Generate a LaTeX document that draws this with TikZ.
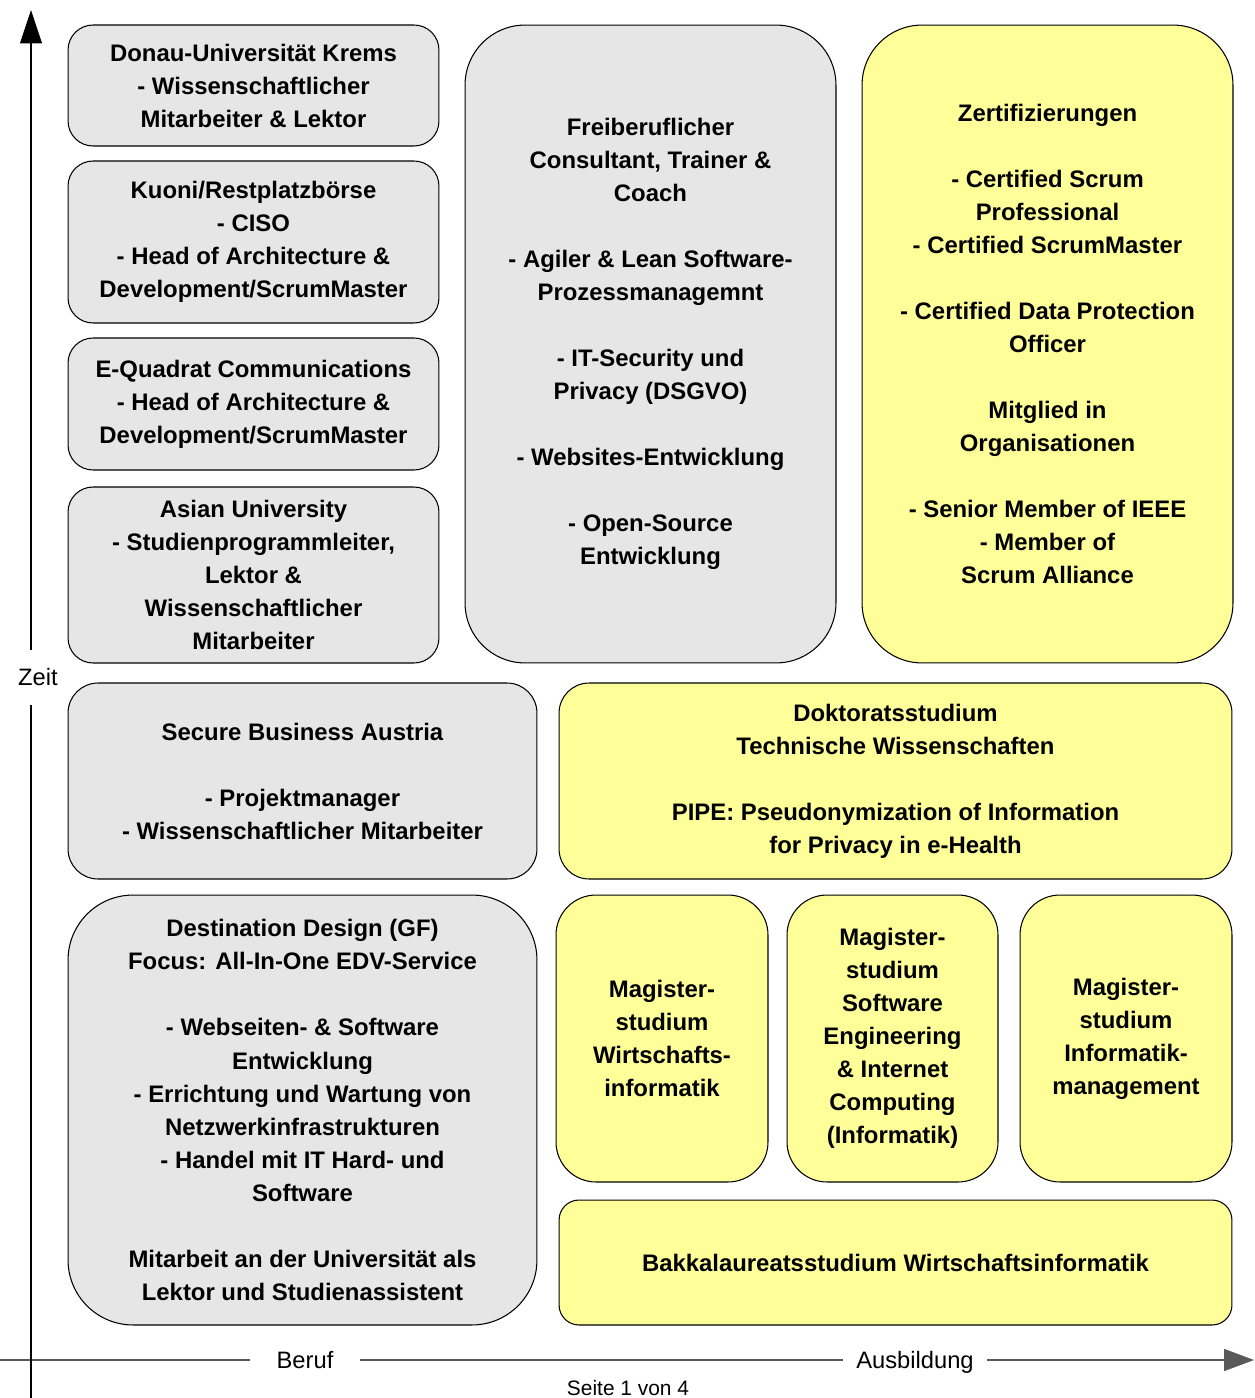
\documentclass[tikz,border=0pt]{standalone}
\usepackage{fontspec}
\setmainfont{Liberation Sans}
\usetikzlibrary{arrows.meta}
\definecolor{jobgray}{HTML}{E6E6E6}
\definecolor{eduyellow}{HTML}{FFFF99}
\tikzset{
  card/.style={draw=black, line width=0.6pt, rectangle, align=center, inner sep=0pt,
    font=\fontsize{13.6}{18.8}\selectfont\bfseries},
  jobbox/.style={card, fill=jobgray},
  edubox/.style={card, fill=eduyellow},
  axislabel/.style={fill=white, inner sep=0pt, font=\fontsize{13.5}{16}\selectfont}
}
\begin{document}
\begin{tikzpicture}[x=0.02cm, y=-0.02cm]
        \useasboundingbox (0,0) rectangle (1254,1398);
        % Beruf
        \node[jobbox, rounded corners=0.5cm, minimum width=7.42cm, minimum height=2.42cm] (donau) at (253.5,85.5)
            {Donau-Universität Krems\\- Wissenschaftlicher\\Mitarbeiter \& Lektor};
        \node[jobbox, rounded corners=0.5cm, minimum width=7.42cm, minimum height=3.24cm] (kuoni) at (253.5,242)
            {Kuoni/Restplatzbörse\\- CISO\\- Head of Architecture \&\\Development/ScrumMaster};
        \node[jobbox, rounded corners=0.5cm, minimum width=7.42cm, minimum height=2.64cm] (equadrat) at (253.5,404)
            {E-Quadrat Communications\\- Head of Architecture \&\\Development/ScrumMaster};
        \node[jobbox, rounded corners=0.5cm, minimum width=7.42cm, minimum height=3.52cm] (asian) at (253.5,575)
            {Asian University\\- Studienprogrammleiter,\\Lektor \&\\Wissenschaftlicher\\Mitarbeiter};
        \node[jobbox, rounded corners=1.2cm, minimum width=7.42cm, minimum height=12.76cm] (frei) at (650.5,344)
            {Freiberuflicher\\Consultant, Trainer \&\\Coach\\[\baselineskip]- Agiler \& Lean Software-\\Prozessmanagemnt\\[\baselineskip]- IT-Security und\\Privacy (DSGVO)\\[\baselineskip]- Websites-Entwicklung\\[\baselineskip]- Open-Source\\Entwicklung};
        \node[jobbox, rounded corners=0.6cm, minimum width=9.38cm, minimum height=3.92cm] (sba) at (302.5,781)
            {Secure Business Austria\\[\baselineskip]- Projektmanager\\- Wissenschaftlicher Mitarbeiter};
        \node[jobbox, rounded corners=1.3cm, minimum width=9.38cm, minimum height=8.6cm] (dd) at (302.5,1110)
            {Destination Design (GF)\\Focus: All-In-One EDV-Service\\[\baselineskip]- Webseiten- \& Software\\Entwicklung\\- Errichtung und Wartung von\\Netzwerkinfrastrukturen\\- Handel mit IT Hard- und\\Software\\[\baselineskip]Mitarbeit an der Universität als\\Lektor und Studienassistent};
        % Ausbildung
        \node[edubox, rounded corners=1.2cm, minimum width=7.42cm, minimum height=12.76cm] (zert) at (1047.5,344)
            {Zertifizierungen\\[\baselineskip]- Certified Scrum\\Professional\\- Certified ScrumMaster\\[\baselineskip]- Certified Data Protection\\Officer\\[\baselineskip]Mitglied in\\Organisationen\\[\baselineskip]- Senior Member of IEEE\\- Member of\\Scrum Alliance};
        \node[edubox, rounded corners=0.6cm, minimum width=13.46cm, minimum height=3.92cm] (dr) at (895.5,781)
            {Doktoratsstudium\\Technische Wissenschaften\\[\baselineskip]PIPE: Pseudonymization of Information\\for Privacy in e-Health};
        \node[edubox, rounded corners=0.8cm, minimum width=4.24cm, minimum height=5.74cm] (magwi) at (662,1038.5)
            {Magister-\\studium\\Wirtschafts-\\informatik};
        \node[edubox, rounded corners=0.8cm, minimum width=4.22cm, minimum height=5.74cm] (magse) at (892.5,1038.5)
            {Magister-\\studium\\Software\\Engineering\\\& Internet\\Computing\\(Informatik)};
        \node[edubox, rounded corners=0.8cm, minimum width=4.24cm, minimum height=5.74cm] (magim) at (1126,1038.5)
            {Magister-\\studium\\Informatik-\\management};
        \node[edubox, rounded corners=0.4cm, minimum width=13.46cm, minimum height=2.5cm] (bakk) at (895.5,1262.5)
            {Bakkalaureatsstudium Wirtschaftsinformatik};
        % Achsen
        \coordinate (ybot) at (31,1398);
        \coordinate (ytop) at (31,10);
        \coordinate (xleft) at (0,1360);
        \coordinate (xright) at (1254,1360);
        \node[axislabel, minimum width=0.8cm, minimum height=1.1cm] (zeit) at (38,677.5) {Zeit};
        \node[axislabel, minimum width=2.2cm, minimum height=0.6cm] (beruf) at (305,1360) {Beruf};
        \node[axislabel, minimum width=2.88cm, minimum height=0.6cm] (ausb) at (915,1362) {Ausbildung};
        \draw[line width=0.7pt, black!65] (xleft) -- (beruf.west |- xleft);
        \draw[line width=0.7pt, black!65] (beruf.east |- xleft) -- (ausb.west |- xleft);
        \draw[line width=0.7pt, black!65, -{Triangle[length=17pt,width=12.5pt]}] (ausb.east |- xleft) -- (xright);
        \draw[line width=0.6pt] (ybot) -- (ybot |- zeit.south);
        \draw[line width=0.6pt, -{Triangle[length=19pt,width=12.5pt]}] (ytop |- zeit.north) -- (ytop);
        \node[font=\fontsize{11.9}{14}\selectfont] (seite) at (628,1388) {Seite 1 von 4};
    \end{tikzpicture}
\end{document}
